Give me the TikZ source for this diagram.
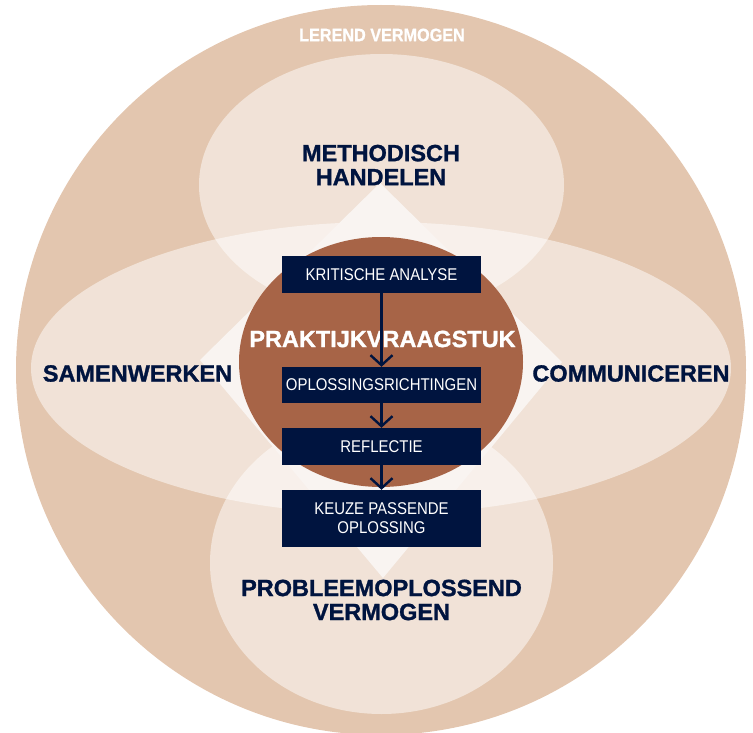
\documentclass[tikz,border=0pt]{standalone}
\usepackage{fontspec}
\setmainfont{Liberation Sans}
\newfontfamily\headfont[FakeBold=1.2]{Liberation Sans Bold}
\newfontfamily\condfont[FakeStretch=0.88]{Liberation Sans}
\newfontfamily\lerendfont[FakeStretch=0.9,FakeBold=0.8]{Liberation Sans Bold}
\usetikzlibrary{arrows.meta}
\definecolor{tan}{HTML}{E3C6AF}
\definecolor{diam}{HTML}{F9F4F1}
\definecolor{brown}{HTML}{A76447}
\definecolor{navy}{HTML}{00143F}
\tikzset{
  petal/.style={fill=white, fill opacity=0.5, draw=none},
  headtext/.style={text=navy, inner sep=0pt, align=center,
    font=\headfont\fontsize{23.5}{24}\selectfont},
  stepbox/.style={fill=navy, text=white, minimum width=199pt, inner sep=0pt,
    align=center, font=\condfont\fontsize{17}{19}\selectfont},
  flow/.style={draw=navy, line width=2.4pt,
    -{Straight Barb[length=10pt,width=22pt,line width=2.4pt]}}
}
\begin{document}
\begin{tikzpicture}[x=1pt,y=-1pt]
\useasboundingbox (0,0) rectangle (753,733);
% outer circle
\fill[tan] (381,370) circle [radius=365];
% ellipses
\fill[petal] (381.5,185) ellipse [x radius=182.5, y radius=131];
\fill[petal] (381,368) ellipse [x radius=350, y radius=146];
\fill[petal] (381.5,563) ellipse [x radius=171.5, y radius=151];
% diamond
\fill[diam] (380,183) -- (562,362) -- (383,578) -- (200,360) -- cycle;
% brown core
\fill[brown] (381,362) ellipse [x radius=142, y radius=125];
% labels
\node[text=white, inner sep=0pt, font=\lerendfont\fontsize{18}{20}\selectfont] (lv) at (382,35) {LEREND VERMOGEN};
\node[headtext] (mh) at (381,165) {METHODISCH\\HANDELEN};
\node[headtext] (sw) at (137.5,373.5) {SAMENWERKEN};
\node[headtext] (co) at (631,373.5) {COMMUNICEREN};
\node[headtext] (pv) at (381.5,600) {PROBLEEMOPLOSSEND\\VERMOGEN};
\node[headtext, text=white] (pk) at (382.5,339) {PRAKTIJKVRAAGSTUK};
% steps
\node[stepbox, minimum height=37pt] (ka) at (381.5,274.5) {KRITISCHE ANALYSE};
\node[stepbox, minimum height=36pt] (or) at (381.5,385) {OPLOSSINGSRICHTINGEN};
\node[stepbox, minimum height=37pt] (re) at (381.5,446.5) {REFLECTIE};
\node[stepbox, minimum height=57pt] (kp) at (381.5,518.5) {KEUZE PASSENDE\\OPLOSSING};
\draw[flow] (ka) -- (or);
\draw[flow] (or) -- (re);
\draw[flow] (re) -- (kp);
\end{tikzpicture}
\end{document}
